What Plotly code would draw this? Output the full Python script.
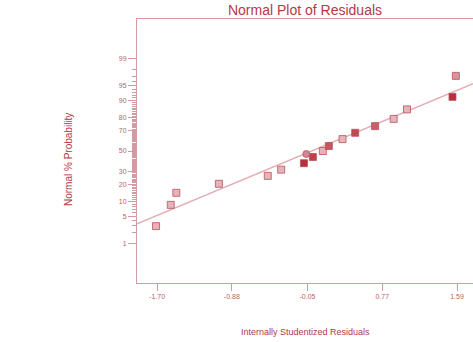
from statistics import NormalDist
import plotly.graph_objects as go

# Data
residuals = [-1.711, -1.55, -1.489, -1.022, -0.486, -0.339, -0.089, 0.009, -0.063,
             0.118, 0.184, 0.334, 0.473, 0.691, 0.895, 1.041, 1.54, 1.577]
probability_pct = [2.9, 8.7, 14.6, 20.4, 26.5, 31.9, 37.9, 44.0, 47.0,
                   50.0, 55.0, 61.8, 67.7, 73.5, 79.1, 85.3, 91.4, 97.1]
point_colors = ["#e6b3b8", "#e6b3b8", "#e6b3b8", "#e6b3b8", "#e6b3b8", "#e6b3b8",
                "#b52f3c", "#bf404a", "#d4868e", "#e6b3b8", "#c65560", "#e6b3b8",
                "#c04a54", "#c9606a", "#e6b3b8", "#e6b3b8", "#b52f3c", "#d8949b"]
point_symbols = ["square"] * 8 + ["circle"] + ["square"] * 9

fit_x = [-1.92, 1.765]
fit_pct = [3.33, 95.5]

x_tick_vals = [-1.70, -0.88, -0.05, 0.77, 1.59]
x_tick_text = ["-1.70", "-0.88", "-0.05", "0.77", "1.59"]
y_major_pct = [1, 5, 10, 20, 30, 50, 70, 80, 90, 95, 99]
y_minor_pct = list(range(2, 99))

nd = NormalDist()
z = lambda p: nd.inv_cdf(p / 100.0)

AX = "#d39aa2"
TXT = "#c0606c"
TITLE = "#b03a48"

fig = go.Figure()
fig.add_trace(go.Scatter(
    x=fit_x, y=[z(p) for p in fit_pct], mode="lines",
    line=dict(color="#e4aeb4", width=1.5), hoverinfo="skip", showlegend=False))
fig.add_trace(go.Scatter(
    x=residuals, y=[z(p) for p in probability_pct], mode="markers",
    marker=dict(symbol=point_symbols, size=7, color=point_colors,
                line=dict(color="#b8505c", width=0.8)),
    showlegend=False))

fig.update_layout(
    width=473, height=342,
    margin=dict(l=137, r=0, t=19, b=59),
    paper_bgcolor="white", plot_bgcolor="white",
    font=dict(family="Liberation Sans, Arial, sans-serif", color=TXT),
    title=dict(text="Normal Plot of Residuals", x=0.5, xref="paper",
               y=1 - 10 / 342, yref="container", yanchor="middle",
               font=dict(size=14, color=TITLE)),
    xaxis=dict(range=[-1.92, 1.765], tickvals=x_tick_vals, ticktext=x_tick_text,
               ticks="outside", ticklen=7, tickcolor=AX, showline=True, linecolor=AX,
               linewidth=1, mirror=True, showgrid=False, zeroline=False,
               tickfont=dict(size=7, color=TXT)),
    yaxis=dict(range=[-3.33, 3.33], tickvals=[z(p) for p in y_major_pct],
               ticktext=[str(p) for p in y_major_pct],
               ticks="outside", ticklen=8, tickcolor=AX, showline=True, linecolor=AX,
               linewidth=1, showgrid=False, zeroline=False,
               tickfont=dict(size=7, color=TXT),
               minor=dict(tickvals=[z(p) for p in y_minor_pct], ticks="outside",
                          ticklen=4, tickcolor=AX, showgrid=False)),
    annotations=[
        dict(text="Normal % Probability", xref="paper", yref="paper",
             x=(68 - 137) / 336, y=0.5 - (160 - 151) / 264, textangle=-90,
             showarrow=False, xanchor="center", yanchor="middle",
             font=dict(size=10, color=TITLE)),
        dict(text="Internally Studentized Residuals", xref="paper", yref="paper",
             x=0.5, y=-(332 - 283) / 264, showarrow=False,
             xanchor="center", yanchor="middle",
             font=dict(size=9, color=TITLE)),
    ],
)

fig.write_html("out.html")
